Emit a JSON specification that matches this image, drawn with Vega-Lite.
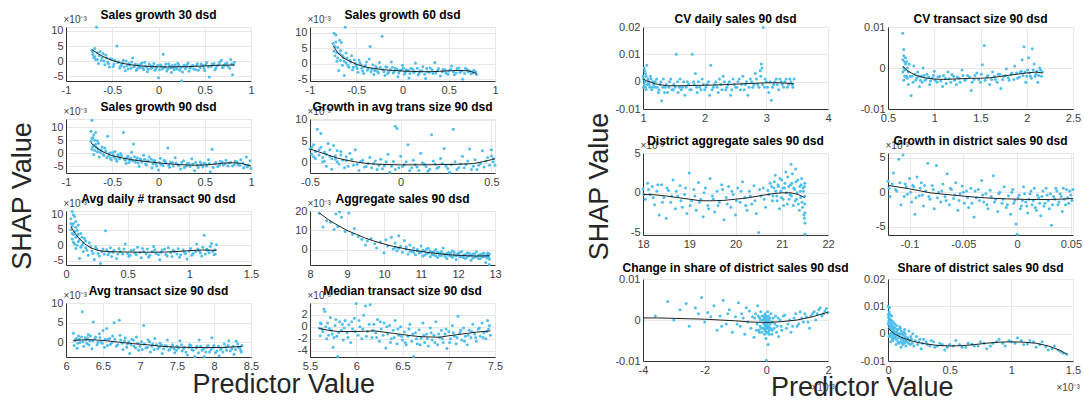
{
"$schema":"https://vega.github.io/schema/vega-lite/v6.json",
"padding":{"left":9,"top":8,"right":0,"bottom":0},
"config":{
 "font":"Liberation Sans",
 "view":{"stroke":"#e6e6e6"},
 "axis":{"grid":true,"gridColor":"#e8e8e8","domainColor":"#333333","ticks":false,"labelFontSize":11,"labelColor":"#404040","labelFont":"Liberation Sans","labelPadding":3,"labelFlush":false,"labelOverlap":false,"labelExpr":"replace(format(datum.value,'~g'),'\u2212','-')","titleFont":"Liberation Sans","titleFontWeight":"normal","titleFontSize":10,"titleColor":"#404040"},
 "axisY":{"titleAngle":0,"titleAlign":"left","titleBaseline":"bottom","titleX":-3,"titleY":-3,"titlePadding":0},
 "title":{"fontSize":12,"fontWeight":"bold","color":"#000000","frame":"group","offset":-8},
 "point":{"filled":true,"size":9,"color":"#4DBEEE","opacity":1,"clip":true},
 "line":{"color":"#222222","strokeWidth":1,"clip":true}
},
"datasets":{
"p1":[{"x":-0.72,"y":3.5},{"x":-0.71,"y":2.2},{"x":-0.7,"y":1.2},{"x":-0.69,"y":4.2},{"x":-0.68,"y":0.5},{"x":-0.67,"y":11.2},{"x":-0.66,"y":2.8},{"x":-0.65,"y":-0.8},{"x":-0.64,"y":1.8},{"x":-0.62,"y":0.2},{"x":-0.6,"y":2.5},{"x":-0.58,"y":-1.2},{"x":-0.56,"y":1.0},{"x":-0.55,"y":-0.3},{"x":-0.53,"y":-2.0},{"x":-0.5,"y":0.6},{"x":-0.48,"y":-1.0},{"x":-0.45,"y":5.0},{"x":-0.44,"y":-0.5},{"x":-0.42,"y":-2.3},{"x":-0.4,"y":-1.2},{"x":-0.38,"y":0.3},{"x":-0.36,"y":-3.2},{"x":-0.34,"y":-1.5},{"x":-0.32,"y":-0.8},{"x":-0.3,"y":-2.4},{"x":-0.28,"y":1.0},{"x":-0.26,"y":-1.8},{"x":-0.24,"y":-3.0},{"x":-0.22,"y":-1.2},{"x":-0.2,"y":-2.2},{"x":-0.18,"y":-0.6},{"x":-0.16,"y":-2.8},{"x":-0.14,"y":-1.6},{"x":-0.12,"y":-3.5},{"x":-0.1,"y":-1.0},{"x":-0.08,"y":-2.4},{"x":-0.06,"y":-1.7},{"x":-0.04,"y":-3.0},{"x":-0.02,"y":-2.0},{"x":0.0,"y":-5.5},{"x":0.02,"y":-1.2},{"x":0.04,"y":-2.6},{"x":0.05,"y":2.3},{"x":0.07,"y":-1.9},{"x":0.09,"y":-3.3},{"x":0.11,"y":-0.9},{"x":0.13,"y":-2.3},{"x":0.15,"y":-1.5},{"x":0.17,"y":-2.9},{"x":0.19,"y":-2.0},{"x":0.21,"y":-0.7},{"x":0.23,"y":-3.0},{"x":0.25,"y":-6.5},{"x":0.27,"y":-1.7},{"x":0.29,"y":-2.5},{"x":0.31,"y":-1.1},{"x":0.33,"y":-3.4},{"x":0.35,"y":-2.0},{"x":0.37,"y":-1.4},{"x":0.4,"y":-2.8},{"x":0.42,"y":-0.9},{"x":0.45,"y":-2.1},{"x":0.48,"y":-1.5},{"x":0.5,"y":-3.1},{"x":0.52,"y":-0.5},{"x":0.55,"y":-5.3},{"x":0.57,"y":-1.8},{"x":0.6,"y":-0.8},{"x":0.62,"y":-2.4},{"x":0.65,"y":-1.2},{"x":0.68,"y":0.3},{"x":0.7,"y":-2.0},{"x":0.72,"y":-1.0},{"x":0.75,"y":-1.7},{"x":0.78,"y":0.5},{"x":0.8,"y":-4.5},{"x":0.81,"y":-1.2},{"x":0.82,"y":-0.4},{"x":-0.71,"y":3.0},{"x":-0.69,"y":1.5},{"x":-0.66,"y":0.5},{"x":-0.63,"y":3.2},{"x":-0.61,"y":1.0},{"x":-0.59,"y":0.0},{"x":-0.57,"y":2.0},{"x":-0.54,"y":-0.8},{"x":-0.52,"y":0.8},{"x":-0.49,"y":-1.8},{"x":-0.47,"y":0.2},{"x":-0.43,"y":-0.2},{"x":-0.41,"y":-1.6},{"x":-0.39,"y":-0.6},{"x":-0.37,"y":-2.0},{"x":-0.35,"y":0.0},{"x":-0.33,"y":-2.6},{"x":-0.31,"y":-1.3},{"x":-0.29,"y":-0.3},{"x":-0.27,"y":-2.0},{"x":-0.25,"y":-1.0},{"x":-0.23,"y":-2.5},{"x":-0.21,"y":-1.9},{"x":-0.19,"y":-1.0},{"x":-0.17,"y":-2.3},{"x":-0.15,"y":-0.4},{"x":-0.13,"y":-2.0},{"x":-0.11,"y":-2.7},{"x":-0.09,"y":-1.4},{"x":-0.07,"y":-2.1},{"x":-0.05,"y":-0.8},{"x":-0.03,"y":-2.6},{"x":-0.01,"y":-1.4},{"x":0.01,"y":-2.9},{"x":0.03,"y":-1.6},{"x":0.06,"y":-2.2},{"x":0.08,"y":-1.0},{"x":0.1,"y":-2.6},{"x":0.12,"y":-1.7},{"x":0.14,"y":-3.8},{"x":0.16,"y":-2.2},{"x":0.18,"y":-1.2},{"x":0.2,"y":-2.6},{"x":0.22,"y":-1.4},{"x":0.24,"y":-2.2},{"x":0.26,"y":-3.6},{"x":0.28,"y":-1.3},{"x":0.3,"y":-2.0},{"x":0.32,"y":-0.6},{"x":0.34,"y":-2.4},{"x":0.36,"y":-1.6},{"x":0.38,"y":-2.6},{"x":0.41,"y":-1.5},{"x":0.43,"y":-3.0},{"x":0.46,"y":-1.0},{"x":0.49,"y":-2.4},{"x":0.51,"y":-1.2},{"x":0.54,"y":-2.0},{"x":0.58,"y":-1.0},{"x":0.61,"y":-2.9},{"x":0.63,"y":-1.6},{"x":0.66,"y":-0.4},{"x":0.69,"y":-2.2},{"x":0.71,"y":-1.4},{"x":0.74,"y":-0.6},{"x":0.77,"y":-2.4},{"x":0.79,"y":-1.0}],
"l1":[{"x":-0.72,"y":3.8},{"x":-0.65,"y":2.4},{"x":-0.6,"y":1.5},{"x":-0.5,"y":0.2},{"x":-0.4,"y":-0.7},{"x":-0.3,"y":-1.2},{"x":-0.2,"y":-1.6},{"x":-0.1,"y":-1.8},{"x":0,"y":-1.9},{"x":0.1,"y":-1.95},{"x":0.2,"y":-1.9},{"x":0.3,"y":-1.85},{"x":0.4,"y":-1.75},{"x":0.5,"y":-1.6},{"x":0.6,"y":-1.45},{"x":0.7,"y":-1.35},{"x":0.82,"y":-1.3}],
"p2":[{"x":-0.75,"y":6.5},{"x":-0.74,"y":9.8},{"x":-0.74,"y":4.0},{"x":-0.73,"y":2.5},{"x":-0.72,"y":9.2},{"x":-0.72,"y":7.0},{"x":-0.71,"y":0.8},{"x":-0.7,"y":5.2},{"x":-0.69,"y":-2.2},{"x":-0.68,"y":3.2},{"x":-0.67,"y":1.0},{"x":-0.66,"y":6.8},{"x":-0.65,"y":-0.5},{"x":-0.64,"y":2.0},{"x":-0.63,"y":-3.8},{"x":-0.62,"y":11.7},{"x":-0.61,"y":0.2},{"x":-0.6,"y":1.8},{"x":-0.58,"y":-1.2},{"x":-0.56,"y":0.5},{"x":-0.54,"y":-2.0},{"x":-0.52,"y":1.2},{"x":-0.5,"y":-0.8},{"x":-0.48,"y":-2.8},{"x":-0.46,"y":0.3},{"x":-0.44,"y":-1.5},{"x":-0.42,"y":-3.2},{"x":-0.4,"y":-0.6},{"x":-0.38,"y":-2.1},{"x":-0.36,"y":1.5},{"x":-0.35,"y":5.5},{"x":-0.33,"y":-1.8},{"x":-0.31,"y":-3.5},{"x":-0.29,"y":-0.9},{"x":-0.27,"y":-2.5},{"x":-0.25,"y":0.4},{"x":-0.22,"y":8.8},{"x":-0.21,"y":-2.0},{"x":-0.19,"y":-3.8},{"x":-0.17,"y":-1.2},{"x":-0.15,"y":-2.7},{"x":-0.12,"y":0.5},{"x":-0.1,"y":-3.0},{"x":-0.08,"y":-1.6},{"x":-0.05,"y":-4.2},{"x":-0.03,"y":-2.2},{"x":0.0,"y":-0.5},{"x":0.02,"y":-3.4},{"x":0.04,"y":-2.0},{"x":0.07,"y":-4.6},{"x":0.09,"y":-1.5},{"x":0.12,"y":-2.9},{"x":0.14,"y":0.2},{"x":0.17,"y":-3.6},{"x":0.19,"y":-2.3},{"x":0.22,"y":-1.0},{"x":0.25,"y":-4.8},{"x":0.27,"y":-2.6},{"x":0.3,"y":-1.4},{"x":0.33,"y":-3.2},{"x":0.35,"y":0.4},{"x":0.38,"y":-2.2},{"x":0.41,"y":-4.0},{"x":0.44,"y":-1.8},{"x":0.47,"y":-3.0},{"x":0.5,"y":-2.4},{"x":0.53,"y":-0.8},{"x":0.56,"y":-3.6},{"x":0.59,"y":-1.6},{"x":0.62,"y":-2.8},{"x":0.65,"y":-5.0},{"x":0.68,"y":-1.5},{"x":0.71,"y":-2.6},{"x":0.74,"y":-3.3},{"x":0.77,"y":-2.1},{"x":0.8,"y":-3.5},{"x":-0.73,"y":5.5},{"x":-0.71,"y":3.6},{"x":-0.7,"y":1.8},{"x":-0.68,"y":7.5},{"x":-0.67,"y":4.2},{"x":-0.65,"y":2.6},{"x":-0.63,"y":0.8},{"x":-0.61,"y":3.4},{"x":-0.59,"y":-0.5},{"x":-0.57,"y":1.0},{"x":-0.55,"y":2.5},{"x":-0.53,"y":-1.2},{"x":-0.51,"y":0.0},{"x":-0.49,"y":-1.6},{"x":-0.47,"y":1.2},{"x":-0.45,"y":-0.4},{"x":-0.43,"y":-2.4},{"x":-0.41,"y":-1.0},{"x":-0.39,"y":0.5},{"x":-0.37,"y":-1.6},{"x":-0.34,"y":-2.6},{"x":-0.32,"y":-0.4},{"x":-0.3,"y":-2.2},{"x":-0.28,"y":-1.4},{"x":-0.26,"y":-3.0},{"x":-0.24,"y":-1.2},{"x":-0.2,"y":-2.6},{"x":-0.18,"y":-1.0},{"x":-0.16,"y":-3.2},{"x":-0.13,"y":-2.0},{"x":-0.11,"y":-1.2},{"x":-0.09,"y":-2.6},{"x":-0.06,"y":-1.8},{"x":-0.04,"y":-3.0},{"x":-0.01,"y":-2.0},{"x":0.01,"y":-1.4},{"x":0.03,"y":-2.8},{"x":0.06,"y":-2.2},{"x":0.08,"y":-3.2},{"x":0.11,"y":-1.8},{"x":0.13,"y":-2.6},{"x":0.16,"y":-1.5},{"x":0.18,"y":-3.0},{"x":0.21,"y":-2.4},{"x":0.24,"y":-3.4},{"x":0.26,"y":-1.6},{"x":0.29,"y":-2.8},{"x":0.32,"y":-2.0},{"x":0.36,"y":-3.0},{"x":0.39,"y":-1.6},{"x":0.43,"y":-2.6},{"x":0.46,"y":-2.0},{"x":0.49,"y":-3.4},{"x":0.52,"y":-1.8},{"x":0.55,"y":-2.6},{"x":0.58,"y":-3.0},{"x":0.61,"y":-1.4},{"x":0.64,"y":-2.4},{"x":0.67,"y":-3.2},{"x":0.7,"y":-1.9},{"x":0.73,"y":-2.4},{"x":0.76,"y":-3.0},{"x":0.79,"y":-2.6}],
"l2":[{"x":-0.75,"y":5.8},{"x":-0.7,"y":3.5},{"x":-0.65,"y":2.1},{"x":-0.6,"y":1.2},{"x":-0.5,"y":-0.2},{"x":-0.4,"y":-1.1},{"x":-0.3,"y":-1.6},{"x":-0.2,"y":-2.0},{"x":-0.1,"y":-2.2},{"x":0,"y":-2.4},{"x":0.1,"y":-2.5},{"x":0.2,"y":-2.6},{"x":0.3,"y":-2.6},{"x":0.4,"y":-2.5},{"x":0.5,"y":-2.3},{"x":0.6,"y":-2.2},{"x":0.7,"y":-2.3},{"x":0.75,"y":-2.6},{"x":0.8,"y":-3.2}],
"p3":[{"x":-0.73,"y":4.5},{"x":-0.73,"y":8.5},{"x":-0.72,"y":12.7},{"x":-0.72,"y":1.5},{"x":-0.71,"y":6.0},{"x":-0.7,"y":3.0},{"x":-0.7,"y":-0.5},{"x":-0.69,"y":5.0},{"x":-0.68,"y":8.0},{"x":-0.67,"y":2.2},{"x":-0.66,"y":0.5},{"x":-0.65,"y":3.8},{"x":-0.64,"y":-1.5},{"x":-0.62,"y":1.2},{"x":-0.6,"y":-0.3},{"x":-0.58,"y":2.0},{"x":-0.56,"y":-1.8},{"x":-0.55,"y":6.5},{"x":-0.53,"y":0.0},{"x":-0.51,"y":-2.6},{"x":-0.49,"y":-0.8},{"x":-0.47,"y":0.6},{"x":-0.45,"y":-3.2},{"x":-0.43,"y":-1.5},{"x":-0.41,"y":-0.2},{"x":-0.38,"y":8.0},{"x":-0.37,"y":-2.3},{"x":-0.35,"y":-4.0},{"x":-0.33,"y":-1.2},{"x":-0.31,"y":-2.8},{"x":-0.29,"y":0.3},{"x":-0.27,"y":3.5},{"x":-0.25,"y":-3.5},{"x":-0.23,"y":-1.8},{"x":-0.21,"y":-5.2},{"x":-0.19,"y":-2.6},{"x":-0.16,"y":-0.8},{"x":-0.14,"y":-4.2},{"x":-0.12,"y":-3.0},{"x":-0.1,"y":-1.5},{"x":-0.07,"y":-5.8},{"x":-0.05,"y":-2.8},{"x":-0.03,"y":-4.0},{"x":0.0,"y":-6.5},{"x":0.02,"y":-2.0},{"x":0.05,"y":-4.8},{"x":0.07,"y":-3.2},{"x":0.1,"y":2.0},{"x":0.12,"y":-5.5},{"x":0.15,"y":-3.6},{"x":0.18,"y":-1.8},{"x":0.21,"y":-4.5},{"x":0.24,"y":-6.2},{"x":0.27,"y":-3.0},{"x":0.3,"y":-5.0},{"x":0.33,"y":-4.0},{"x":0.36,"y":-2.2},{"x":0.39,"y":-6.8},{"x":0.42,"y":-4.6},{"x":0.45,"y":-3.4},{"x":0.48,"y":-5.4},{"x":0.51,"y":-4.2},{"x":0.54,"y":-2.6},{"x":0.56,"y":-7.2},{"x":0.58,"y":1.5},{"x":0.61,"y":-4.0},{"x":0.64,"y":-5.2},{"x":0.67,"y":-3.2},{"x":0.7,"y":-4.6},{"x":0.73,"y":-2.8},{"x":0.76,"y":-3.8},{"x":0.8,"y":-5.0},{"x":0.83,"y":-3.2},{"x":0.86,"y":-4.4},{"x":0.89,"y":-2.6},{"x":0.92,"y":-5.8},{"x":0.95,"y":-1.5},{"x":0.97,"y":-4.6},{"x":0.99,"y":-3.0},{"x":1.0,"y":-6.0},{"x":-0.72,"y":5.5},{"x":-0.71,"y":2.5},{"x":-0.7,"y":7.0},{"x":-0.69,"y":1.0},{"x":-0.68,"y":3.4},{"x":-0.66,"y":4.8},{"x":-0.65,"y":1.6},{"x":-0.63,"y":0.2},{"x":-0.61,"y":2.4},{"x":-0.59,"y":-0.9},{"x":-0.57,"y":0.8},{"x":-0.54,"y":-1.0},{"x":-0.52,"y":-2.0},{"x":-0.5,"y":0.2},{"x":-0.48,"y":-1.6},{"x":-0.46,"y":-2.4},{"x":-0.44,"y":-0.6},{"x":-0.42,"y":-2.2},{"x":-0.4,"y":-1.0},{"x":-0.36,"y":-2.8},{"x":-0.34,"y":-1.6},{"x":-0.32,"y":-3.6},{"x":-0.3,"y":-2.0},{"x":-0.28,"y":-3.0},{"x":-0.26,"y":-1.4},{"x":-0.24,"y":-2.6},{"x":-0.22,"y":-3.8},{"x":-0.2,"y":-2.2},{"x":-0.18,"y":-3.4},{"x":-0.15,"y":-2.4},{"x":-0.13,"y":-4.6},{"x":-0.11,"y":-3.2},{"x":-0.08,"y":-2.4},{"x":-0.06,"y":-4.2},{"x":-0.04,"y":-3.0},{"x":-0.02,"y":-5.0},{"x":0.01,"y":-3.6},{"x":0.03,"y":-4.4},{"x":0.06,"y":-2.8},{"x":0.08,"y":-3.8},{"x":0.11,"y":-4.6},{"x":0.13,"y":-3.4},{"x":0.16,"y":-5.0},{"x":0.19,"y":-3.8},{"x":0.22,"y":-4.8},{"x":0.25,"y":-3.6},{"x":0.28,"y":-5.6},{"x":0.31,"y":-4.0},{"x":0.34,"y":-5.2},{"x":0.37,"y":-4.2},{"x":0.4,"y":-3.6},{"x":0.43,"y":-5.6},{"x":0.46,"y":-4.4},{"x":0.49,"y":-3.8},{"x":0.52,"y":-5.0},{"x":0.55,"y":-4.0},{"x":0.59,"y":-5.6},{"x":0.62,"y":-3.6},{"x":0.66,"y":-4.6},{"x":0.69,"y":-3.4},{"x":0.72,"y":-4.2},{"x":0.75,"y":-5.0},{"x":0.78,"y":-3.6},{"x":0.82,"y":-4.4},{"x":0.85,"y":-3.4},{"x":0.88,"y":-4.8},{"x":0.91,"y":-3.8},{"x":0.94,"y":-4.6},{"x":0.96,"y":-5.4}],
"l3":[{"x":-0.73,"y":4},{"x":-0.7,"y":3},{"x":-0.65,"y":1.5},{"x":-0.6,"y":0.5},{"x":-0.5,"y":-1.0},{"x":-0.4,"y":-1.8},{"x":-0.3,"y":-2.5},{"x":-0.2,"y":-3.0},{"x":-0.1,"y":-3.4},{"x":0,"y":-3.8},{"x":0.1,"y":-4.1},{"x":0.2,"y":-4.4},{"x":0.3,"y":-4.6},{"x":0.4,"y":-4.7},{"x":0.5,"y":-4.6},{"x":0.6,"y":-4.3},{"x":0.7,"y":-3.9},{"x":0.8,"y":-3.7},{"x":0.9,"y":-4.0},{"x":1.0,"y":-5.0}],
"p4":[{"x":-0.5,"y":3.2},{"x":-0.49,"y":2.0},{"x":-0.48,"y":4.2},{"x":-0.47,"y":1.0},{"x":-0.46,"y":7.8},{"x":-0.45,"y":3.0},{"x":-0.44,"y":6.8},{"x":-0.43,"y":0.2},{"x":-0.42,"y":2.5},{"x":-0.41,"y":-0.8},{"x":-0.4,"y":4.5},{"x":-0.39,"y":1.5},{"x":-0.38,"y":-1.5},{"x":-0.37,"y":4.0},{"x":-0.36,"y":0.8},{"x":-0.35,"y":2.8},{"x":-0.34,"y":-0.3},{"x":-0.33,"y":1.8},{"x":-0.31,"y":-1.2},{"x":-0.3,"y":0.5},{"x":-0.28,"y":2.2},{"x":-0.26,"y":-0.6},{"x":-0.25,"y":3.0},{"x":-0.23,"y":-1.8},{"x":-0.21,"y":0.6},{"x":-0.19,"y":-0.9},{"x":-0.17,"y":1.2},{"x":-0.15,"y":-0.2},{"x":-0.13,"y":-1.6},{"x":-0.11,"y":0.8},{"x":-0.09,"y":-0.7},{"x":-0.07,"y":2.0},{"x":-0.06,"y":-2.2},{"x":-0.04,"y":0.3},{"x":-0.03,"y":8.5},{"x":-0.02,"y":8.0},{"x":-0.01,"y":-1.2},{"x":0.0,"y":1.5},{"x":0.02,"y":-0.5},{"x":0.04,"y":4.2},{"x":0.05,"y":-1.8},{"x":0.07,"y":0.6},{"x":0.09,"y":-1.0},{"x":0.11,"y":2.2},{"x":0.13,"y":-0.3},{"x":0.15,"y":-2.0},{"x":0.17,"y":6.5},{"x":0.18,"y":0.4},{"x":0.2,"y":-1.3},{"x":0.22,"y":1.0},{"x":0.24,"y":3.3},{"x":0.25,"y":-0.8},{"x":0.27,"y":-2.2},{"x":0.29,"y":7.8},{"x":0.3,"y":0.2},{"x":0.32,"y":-1.1},{"x":0.34,"y":1.5},{"x":0.36,"y":-0.4},{"x":0.38,"y":3.2},{"x":0.39,"y":-1.6},{"x":0.41,"y":0.7},{"x":0.43,"y":-0.6},{"x":0.45,"y":2.8},{"x":0.46,"y":-1.0},{"x":0.48,"y":1.2},{"x":0.5,"y":3.0},{"x":0.51,"y":0.2},{"x":0.52,"y":-0.6},{"x":-0.49,"y":3.6},{"x":-0.48,"y":1.4},{"x":-0.47,"y":2.6},{"x":-0.45,"y":1.8},{"x":-0.44,"y":3.6},{"x":-0.43,"y":1.2},{"x":-0.42,"y":0.4},{"x":-0.41,"y":2.0},{"x":-0.39,"y":3.0},{"x":-0.38,"y":0.9},{"x":-0.36,"y":1.6},{"x":-0.35,"y":0.2},{"x":-0.33,"y":2.6},{"x":-0.32,"y":0.6},{"x":-0.3,"y":1.4},{"x":-0.29,"y":-0.8},{"x":-0.27,"y":0.8},{"x":-0.24,"y":-0.4},{"x":-0.22,"y":0.3},{"x":-0.2,"y":-1.0},{"x":-0.18,"y":-0.2},{"x":-0.16,"y":-1.2},{"x":-0.14,"y":0.4},{"x":-0.12,"y":-0.6},{"x":-0.1,"y":-1.4},{"x":-0.08,"y":0.2},{"x":-0.05,"y":-0.8},{"x":-0.03,"y":-1.6},{"x":0.01,"y":-0.9},{"x":0.03,"y":0.2},{"x":0.06,"y":-1.2},{"x":0.08,"y":-0.4},{"x":0.1,"y":-1.8},{"x":0.12,"y":0.0},{"x":0.14,"y":-0.9},{"x":0.16,"y":-1.5},{"x":0.19,"y":-0.3},{"x":0.21,"y":-1.0},{"x":0.23,"y":-0.2},{"x":0.26,"y":-1.4},{"x":0.28,"y":-0.5},{"x":0.31,"y":-1.6},{"x":0.33,"y":-0.3},{"x":0.35,"y":-1.2},{"x":0.37,"y":0.4},{"x":0.4,"y":-0.8},{"x":0.42,"y":-1.6},{"x":0.44,"y":-0.2},{"x":0.47,"y":0.4},{"x":0.49,"y":-0.6},{"x":0.5,"y":1.6},{"x":0.51,"y":1.0}],
"l4":[{"x":-0.5,"y":3.2},{"x":-0.45,"y":2.5},{"x":-0.4,"y":1.8},{"x":-0.35,"y":1.1},{"x":-0.3,"y":0.6},{"x":-0.25,"y":0.2},{"x":-0.2,"y":-0.1},{"x":-0.15,"y":-0.3},{"x":-0.1,"y":-0.4},{"x":0,"y":-0.5},{"x":0.1,"y":-0.5},{"x":0.2,"y":-0.45},{"x":0.3,"y":-0.4},{"x":0.4,"y":-0.2},{"x":0.45,"y":0.2},{"x":0.5,"y":0.7},{"x":0.52,"y":0.9}],
"p5":[{"x":0.04,"y":8.5},{"x":0.04,"y":5.0},{"x":0.05,"y":10.8},{"x":0.05,"y":2.0},{"x":0.06,"y":7.0},{"x":0.06,"y":3.5},{"x":0.07,"y":9.2},{"x":0.07,"y":0.5},{"x":0.08,"y":5.8},{"x":0.08,"y":-1.0},{"x":0.09,"y":3.0},{"x":0.1,"y":6.5},{"x":0.1,"y":1.2},{"x":0.11,"y":-4.2},{"x":0.12,"y":3.8},{"x":0.13,"y":0.0},{"x":0.14,"y":-2.0},{"x":0.15,"y":2.2},{"x":0.16,"y":-0.8},{"x":0.18,"y":-3.2},{"x":0.19,"y":0.8},{"x":0.21,"y":-1.8},{"x":0.23,"y":-4.5},{"x":0.24,"y":-0.5},{"x":0.26,"y":-2.6},{"x":0.28,"y":-5.8},{"x":0.3,"y":-1.2},{"x":0.32,"y":4.7},{"x":0.34,"y":-3.0},{"x":0.36,"y":-0.8},{"x":0.38,"y":-2.2},{"x":0.41,"y":-4.2},{"x":0.43,"y":-1.0},{"x":0.46,"y":-2.8},{"x":0.48,"y":0.4},{"x":0.51,"y":-3.5},{"x":0.53,"y":-1.6},{"x":0.56,"y":-2.5},{"x":0.58,"y":-0.6},{"x":0.61,"y":-4.0},{"x":0.63,"y":-2.0},{"x":0.66,"y":-1.2},{"x":0.68,"y":-3.2},{"x":0.71,"y":-0.4},{"x":0.73,"y":-2.6},{"x":0.76,"y":-4.6},{"x":0.78,"y":-1.5},{"x":0.81,"y":-2.9},{"x":0.83,"y":-0.8},{"x":0.86,"y":-3.6},{"x":0.88,"y":-2.0},{"x":0.91,"y":-1.1},{"x":0.93,"y":-3.0},{"x":0.96,"y":-2.2},{"x":0.98,"y":-4.4},{"x":1.01,"y":-1.0},{"x":1.03,"y":-2.6},{"x":1.06,"y":0.4},{"x":1.08,"y":-1.8},{"x":1.1,"y":-3.4},{"x":1.12,"y":3.2},{"x":1.14,"y":-1.2},{"x":1.16,"y":-2.4},{"x":1.18,"y":0.6},{"x":1.2,"y":-3.0},{"x":1.21,"y":-1.4},{"x":1.22,"y":0.2},{"x":0.04,"y":7.0},{"x":0.05,"y":3.8},{"x":0.05,"y":6.2},{"x":0.06,"y":9.8},{"x":0.06,"y":1.0},{"x":0.07,"y":4.4},{"x":0.08,"y":7.6},{"x":0.08,"y":2.6},{"x":0.09,"y":4.8},{"x":0.09,"y":0.0},{"x":0.1,"y":3.6},{"x":0.11,"y":1.8},{"x":0.12,"y":-0.6},{"x":0.13,"y":2.6},{"x":0.14,"y":0.8},{"x":0.16,"y":1.4},{"x":0.17,"y":-1.6},{"x":0.2,"y":-0.4},{"x":0.22,"y":-2.6},{"x":0.25,"y":-1.2},{"x":0.27,"y":-3.4},{"x":0.29,"y":-2.0},{"x":0.31,"y":-2.8},{"x":0.33,"y":-1.4},{"x":0.35,"y":-2.4},{"x":0.37,"y":-3.6},{"x":0.39,"y":-1.6},{"x":0.42,"y":-2.8},{"x":0.44,"y":-2.0},{"x":0.47,"y":-1.2},{"x":0.5,"y":-2.6},{"x":0.52,"y":-3.2},{"x":0.55,"y":-1.4},{"x":0.57,"y":-3.0},{"x":0.6,"y":-2.2},{"x":0.62,"y":-1.0},{"x":0.65,"y":-2.8},{"x":0.67,"y":-3.8},{"x":0.7,"y":-2.0},{"x":0.72,"y":-1.4},{"x":0.75,"y":-3.0},{"x":0.77,"y":-2.2},{"x":0.8,"y":-1.2},{"x":0.82,"y":-3.4},{"x":0.85,"y":-2.4},{"x":0.87,"y":-1.6},{"x":0.9,"y":-2.8},{"x":0.92,"y":-3.8},{"x":0.95,"y":-1.4},{"x":0.97,"y":-2.6},{"x":1.0,"y":-1.8},{"x":1.02,"y":-3.2},{"x":1.05,"y":-2.0},{"x":1.07,"y":-1.2},{"x":1.09,"y":-2.4},{"x":1.11,"y":-0.6},{"x":1.13,"y":-2.8},{"x":1.15,"y":-1.6},{"x":1.17,"y":-0.4},{"x":1.19,"y":-2.0},{"x":1.21,"y":-2.8}],
"l5":[{"x":0.04,"y":6.0},{"x":0.07,"y":4.0},{"x":0.1,"y":2.5},{"x":0.15,"y":0.5},{"x":0.2,"y":-0.8},{"x":0.25,"y":-1.5},{"x":0.3,"y":-1.9},{"x":0.4,"y":-2.1},{"x":0.5,"y":-2.15},{"x":0.6,"y":-2.2},{"x":0.7,"y":-2.2},{"x":0.8,"y":-2.15},{"x":0.9,"y":-2.0},{"x":1.0,"y":-1.7},{"x":1.1,"y":-1.5},{"x":1.22,"y":-1.6}],
"p6":[{"x":8.25,"y":18.8},{"x":8.35,"y":11.8},{"x":8.45,"y":15.0},{"x":8.55,"y":14.2},{"x":8.65,"y":10.5},{"x":8.7,"y":18.5},{"x":8.75,"y":12.0},{"x":8.8,"y":19.5},{"x":8.85,"y":16.8},{"x":8.95,"y":9.5},{"x":9.05,"y":19.0},{"x":9.15,"y":8.0},{"x":9.2,"y":11.0},{"x":9.3,"y":6.8},{"x":9.4,"y":5.5},{"x":9.5,"y":2.5},{"x":9.55,"y":4.5},{"x":9.65,"y":5.8},{"x":9.75,"y":3.2},{"x":9.8,"y":1.0},{"x":9.9,"y":4.0},{"x":10.0,"y":-1.5},{"x":10.05,"y":5.2},{"x":10.1,"y":2.0},{"x":10.2,"y":6.5},{"x":10.25,"y":0.5},{"x":10.3,"y":3.5},{"x":10.35,"y":-0.5},{"x":10.4,"y":7.2},{"x":10.45,"y":1.8},{"x":10.5,"y":-1.2},{"x":10.55,"y":4.8},{"x":10.6,"y":0.3},{"x":10.65,"y":-2.2},{"x":10.7,"y":2.5},{"x":10.75,"y":-0.8},{"x":10.8,"y":1.0},{"x":10.85,"y":-2.5},{"x":10.9,"y":0.2},{"x":10.95,"y":-1.6},{"x":11.0,"y":2.0},{"x":11.05,"y":-3.2},{"x":11.1,"y":-0.6},{"x":11.15,"y":-2.0},{"x":11.2,"y":0.8},{"x":11.25,"y":-3.6},{"x":11.3,"y":-1.2},{"x":11.35,"y":-2.6},{"x":11.4,"y":0.2},{"x":11.45,"y":-4.0},{"x":11.5,"y":-1.8},{"x":11.55,"y":-3.0},{"x":11.6,"y":1.0},{"x":11.65,"y":-2.4},{"x":11.7,"y":-4.5},{"x":11.75,"y":-1.4},{"x":11.8,"y":-3.2},{"x":11.85,"y":-0.6},{"x":11.9,"y":-2.8},{"x":11.95,"y":-5.0},{"x":12.0,"y":-1.8},{"x":12.05,"y":-3.6},{"x":12.1,"y":-0.9},{"x":12.15,"y":-2.6},{"x":12.2,"y":-4.4},{"x":12.25,"y":-1.5},{"x":12.3,"y":-3.0},{"x":12.35,"y":-5.4},{"x":12.4,"y":-2.2},{"x":12.45,"y":-3.8},{"x":12.5,"y":-1.0},{"x":12.55,"y":-2.8},{"x":12.6,"y":-4.6},{"x":12.65,"y":-2.0},{"x":12.7,"y":-3.4},{"x":12.75,"y":-6.5},{"x":12.8,"y":-1.6},{"x":12.82,"y":-3.0},{"x":12.85,"y":-7.5},{"x":12.85,"y":-2.2},{"x":10.9,"y":-0.4},{"x":11.0,"y":-1.4},{"x":11.05,"y":-0.2},{"x":11.1,"y":-2.6},{"x":11.15,"y":0.4},{"x":11.2,"y":-1.6},{"x":11.25,"y":-0.6},{"x":11.3,"y":-2.4},{"x":11.35,"y":-0.8},{"x":11.4,"y":-3.0},{"x":11.45,"y":-1.2},{"x":11.5,"y":-2.8},{"x":11.55,"y":-0.8},{"x":11.6,"y":-2.0},{"x":11.65,"y":-3.4},{"x":11.7,"y":-1.8},{"x":11.75,"y":-2.8},{"x":11.8,"y":-1.6},{"x":11.85,"y":-3.8},{"x":11.9,"y":-1.4},{"x":11.95,"y":-3.0},{"x":12.0,"y":-2.4},{"x":12.05,"y":-1.4},{"x":12.1,"y":-3.4},{"x":12.15,"y":-4.0},{"x":12.2,"y":-2.4},{"x":12.25,"y":-3.6},{"x":12.3,"y":-1.8},{"x":12.35,"y":-2.8},{"x":12.4,"y":-4.2},{"x":12.45,"y":-2.0},{"x":12.5,"y":-3.4},{"x":12.55,"y":-4.4},{"x":12.6,"y":-2.4},{"x":12.65,"y":-3.6},{"x":12.7,"y":-1.8},{"x":12.75,"y":-3.0},{"x":12.78,"y":-4.2},{"x":12.8,"y":-2.6},{"x":12.83,"y":-3.6},{"x":12.85,"y":-4.8},{"x":10.6,"y":1.6},{"x":10.7,"y":-0.6},{"x":10.8,"y":-1.2},{"x":10.4,"y":0.8},{"x":10.3,"y":1.2}],
"l6":[{"x":8.25,"y":19},{"x":8.5,"y":15.5},{"x":8.75,"y":12.6},{"x":9,"y":10},{"x":9.25,"y":8},{"x":9.5,"y":6},{"x":9.75,"y":4.4},{"x":10,"y":3},{"x":10.25,"y":1.8},{"x":10.5,"y":0.8},{"x":10.75,"y":-0.1},{"x":11,"y":-0.8},{"x":11.25,"y":-1.5},{"x":11.5,"y":-2},{"x":11.75,"y":-2.5},{"x":12,"y":-2.8},{"x":12.25,"y":-3.05},{"x":12.5,"y":-3.2},{"x":12.75,"y":-3.1},{"x":12.85,"y":-3.0}],
"p7":[{"x":6.1,"y":2.3},{"x":6.11,"y":-0.8},{"x":6.13,"y":0.8},{"x":6.15,"y":-1.5},{"x":6.17,"y":1.6},{"x":6.19,"y":0.0},{"x":6.22,"y":7.8},{"x":6.24,"y":-1.0},{"x":6.26,"y":1.2},{"x":6.28,"y":-0.3},{"x":6.3,"y":2.0},{"x":6.32,"y":0.4},{"x":6.35,"y":-1.6},{"x":6.37,"y":5.2},{"x":6.39,"y":1.0},{"x":6.42,"y":-0.6},{"x":6.45,"y":2.2},{"x":6.47,"y":0.2},{"x":6.5,"y":3.0},{"x":6.52,"y":-1.2},{"x":6.55,"y":3.5},{"x":6.57,"y":0.8},{"x":6.6,"y":-0.5},{"x":6.63,"y":1.6},{"x":6.65,"y":5.0},{"x":6.68,"y":-1.0},{"x":6.72,"y":5.6},{"x":6.74,"y":0.6},{"x":6.77,"y":-1.8},{"x":6.8,"y":1.2},{"x":6.83,"y":-0.4},{"x":6.86,"y":-2.8},{"x":6.89,"y":0.8},{"x":6.92,"y":-1.0},{"x":6.95,"y":1.4},{"x":6.98,"y":-2.0},{"x":7.02,"y":0.2},{"x":7.05,"y":4.3},{"x":7.08,"y":-1.4},{"x":7.11,"y":0.6},{"x":7.14,"y":-2.4},{"x":7.17,"y":-0.4},{"x":7.2,"y":1.0},{"x":7.24,"y":-1.6},{"x":7.27,"y":-0.2},{"x":7.3,"y":-2.8},{"x":7.34,"y":-0.8},{"x":7.37,"y":0.6},{"x":7.4,"y":-1.8},{"x":7.44,"y":-0.6},{"x":7.47,"y":-2.6},{"x":7.5,"y":-1.0},{"x":7.54,"y":0.4},{"x":7.57,"y":-2.2},{"x":7.6,"y":-1.2},{"x":7.64,"y":-3.2},{"x":7.67,"y":-0.6},{"x":7.7,"y":-1.8},{"x":7.74,"y":-3.6},{"x":7.77,"y":-1.0},{"x":7.8,"y":0.6},{"x":7.84,"y":-2.0},{"x":7.87,"y":-3.6},{"x":7.9,"y":-1.2},{"x":7.94,"y":-2.4},{"x":7.97,"y":1.2},{"x":8.0,"y":-0.8},{"x":8.04,"y":-2.2},{"x":8.07,"y":-3.4},{"x":8.1,"y":-1.4},{"x":8.14,"y":-0.4},{"x":8.17,"y":-2.0},{"x":8.2,"y":0.4},{"x":8.24,"y":-1.6},{"x":8.27,"y":-3.0},{"x":8.3,"y":0.3},{"x":8.33,"y":-1.2},{"x":8.36,"y":-2.0},{"x":8.38,"y":-0.8},{"x":6.12,"y":0.4},{"x":6.14,"y":1.0},{"x":6.16,"y":-0.2},{"x":6.18,"y":0.8},{"x":6.21,"y":1.4},{"x":6.23,"y":0.2},{"x":6.27,"y":0.6},{"x":6.29,"y":1.2},{"x":6.31,"y":-0.6},{"x":6.33,"y":1.6},{"x":6.36,"y":0.4},{"x":6.4,"y":1.4},{"x":6.43,"y":0.0},{"x":6.46,"y":1.2},{"x":6.49,"y":-0.2},{"x":6.53,"y":0.8},{"x":6.56,"y":-0.8},{"x":6.59,"y":1.0},{"x":6.62,"y":0.0},{"x":6.66,"y":0.8},{"x":6.7,"y":-0.6},{"x":6.73,"y":1.8},{"x":6.76,"y":-0.2},{"x":6.79,"y":0.4},{"x":6.82,"y":-1.2},{"x":6.85,"y":0.2},{"x":6.88,"y":-0.6},{"x":6.91,"y":0.6},{"x":6.94,"y":-1.4},{"x":6.97,"y":-0.2},{"x":7.0,"y":-1.0},{"x":7.03,"y":-1.8},{"x":7.06,"y":-0.4},{"x":7.1,"y":-1.2},{"x":7.13,"y":0.2},{"x":7.16,"y":-1.0},{"x":7.19,"y":-1.8},{"x":7.22,"y":-0.6},{"x":7.26,"y":-1.2},{"x":7.29,"y":-0.6},{"x":7.32,"y":-1.6},{"x":7.36,"y":-1.0},{"x":7.39,"y":-2.0},{"x":7.42,"y":-1.2},{"x":7.46,"y":-1.6},{"x":7.49,"y":-2.0},{"x":7.52,"y":-1.4},{"x":7.56,"y":-0.6},{"x":7.59,"y":-1.6},{"x":7.62,"y":-2.4},{"x":7.66,"y":-1.2},{"x":7.69,"y":-0.8},{"x":7.72,"y":-2.0},{"x":7.76,"y":-1.4},{"x":7.79,"y":-2.6},{"x":7.82,"y":-1.0},{"x":7.86,"y":-1.6},{"x":7.89,"y":-2.4},{"x":7.92,"y":-0.8},{"x":7.96,"y":-1.8},{"x":7.99,"y":-1.2},{"x":8.02,"y":-2.6},{"x":8.06,"y":-1.0},{"x":8.09,"y":-1.8},{"x":8.12,"y":-2.4},{"x":8.16,"y":-1.2},{"x":8.19,"y":-0.8},{"x":8.22,"y":-2.2},{"x":8.26,"y":-1.0},{"x":8.29,"y":-1.8},{"x":8.32,"y":-0.4},{"x":8.35,"y":-1.4},{"x":8.37,"y":-2.4}],
"l7":[{"x":6.1,"y":0.5},{"x":6.2,"y":0.6},{"x":6.3,"y":0.7},{"x":6.4,"y":0.6},{"x":6.5,"y":0.5},{"x":6.6,"y":0.3},{"x":6.7,"y":0.1},{"x":6.8,"y":-0.1},{"x":6.9,"y":-0.3},{"x":7.0,"y":-0.45},{"x":7.1,"y":-0.6},{"x":7.2,"y":-0.8},{"x":7.3,"y":-1.0},{"x":7.4,"y":-1.1},{"x":7.5,"y":-1.2},{"x":7.7,"y":-1.3},{"x":7.9,"y":-1.3},{"x":8.1,"y":-1.3},{"x":8.25,"y":-1.15},{"x":8.38,"y":-1.0}],
"p8":[{"x":5.6,"y":-0.2},{"x":5.61,"y":-1.5},{"x":5.62,"y":0.5},{"x":5.64,"y":-0.8},{"x":5.65,"y":2.9},{"x":5.66,"y":2.5},{"x":5.68,"y":-2.0},{"x":5.69,"y":0.6},{"x":5.71,"y":-0.3},{"x":5.72,"y":1.5},{"x":5.74,"y":-1.2},{"x":5.75,"y":-3.4},{"x":5.77,"y":0.2},{"x":5.79,"y":-1.6},{"x":5.8,"y":-4.9},{"x":5.82,"y":0.8},{"x":5.84,"y":-0.6},{"x":5.86,"y":-2.2},{"x":5.88,"y":1.0},{"x":5.9,"y":-1.0},{"x":5.92,"y":0.3},{"x":5.94,"y":-2.6},{"x":5.96,"y":-0.4},{"x":5.98,"y":1.4},{"x":6.0,"y":3.8},{"x":6.02,"y":-1.4},{"x":6.04,"y":0.0},{"x":6.06,"y":-2.0},{"x":6.08,"y":1.9},{"x":6.1,"y":3.4},{"x":6.12,"y":-0.8},{"x":6.15,"y":3.6},{"x":6.17,"y":-1.8},{"x":6.19,"y":0.4},{"x":6.21,"y":-1.0},{"x":6.23,"y":1.2},{"x":6.25,"y":-2.4},{"x":6.27,"y":-0.4},{"x":6.3,"y":0.6},{"x":6.32,"y":-3.5},{"x":6.34,"y":-1.2},{"x":6.36,"y":0.2},{"x":6.38,"y":-2.0},{"x":6.4,"y":-0.6},{"x":6.42,"y":1.0},{"x":6.44,"y":-2.8},{"x":6.46,"y":-1.4},{"x":6.48,"y":0.0},{"x":6.5,"y":-2.2},{"x":6.52,"y":-0.9},{"x":6.54,"y":-3.0},{"x":6.56,"y":-1.6},{"x":6.58,"y":0.4},{"x":6.6,"y":-2.4},{"x":6.62,"y":-4.9},{"x":6.64,"y":-1.0},{"x":6.66,"y":-2.8},{"x":6.68,"y":-0.5},{"x":6.7,"y":-1.9},{"x":6.72,"y":0.6},{"x":6.74,"y":-2.6},{"x":6.76,"y":-1.2},{"x":6.78,"y":-3.2},{"x":6.8,"y":-0.2},{"x":6.82,"y":-2.2},{"x":6.84,"y":-1.4},{"x":6.86,"y":0.8},{"x":6.88,"y":-3.0},{"x":6.9,"y":-1.8},{"x":6.92,"y":-0.6},{"x":6.94,"y":-2.6},{"x":6.96,"y":-1.2},{"x":6.98,"y":-3.6},{"x":7.0,"y":-0.8},{"x":7.02,"y":-2.0},{"x":7.04,"y":0.2},{"x":7.06,"y":-1.6},{"x":7.08,"y":-2.8},{"x":7.1,"y":1.7},{"x":7.12,"y":-1.0},{"x":7.14,"y":-2.2},{"x":7.16,"y":-0.2},{"x":7.18,"y":-1.6},{"x":7.2,"y":-3.0},{"x":7.22,"y":-0.6},{"x":7.24,"y":-1.8},{"x":7.26,"y":0.4},{"x":7.28,"y":-1.2},{"x":7.3,"y":-2.4},{"x":7.32,"y":-0.4},{"x":7.34,"y":-1.6},{"x":7.36,"y":0.6},{"x":7.38,"y":-1.0},{"x":7.4,"y":-2.0},{"x":7.42,"y":1.0},{"x":7.43,"y":-0.4},{"x":7.45,"y":-1.4},{"x":5.61,"y":0.6},{"x":5.63,"y":-0.4},{"x":5.67,"y":0.0},{"x":5.7,"y":-1.4},{"x":5.73,"y":-0.6},{"x":5.76,"y":-1.8},{"x":5.78,"y":1.2},{"x":5.81,"y":-1.0},{"x":5.85,"y":0.4},{"x":5.87,"y":-0.2},{"x":5.91,"y":-1.8},{"x":5.95,"y":0.8},{"x":5.99,"y":-0.8},{"x":6.03,"y":1.0},{"x":6.07,"y":-0.4},{"x":6.11,"y":-1.6},{"x":6.14,"y":0.4},{"x":6.18,"y":-0.6},{"x":6.22,"y":-1.8},{"x":6.26,"y":0.8},{"x":6.29,"y":-1.4},{"x":6.33,"y":0.0},{"x":6.37,"y":-2.6},{"x":6.41,"y":-1.8},{"x":6.45,"y":-0.4},{"x":6.49,"y":-1.6},{"x":6.53,"y":-2.6},{"x":6.57,"y":-0.4},{"x":6.61,"y":-1.2},{"x":6.65,"y":-2.0},{"x":6.69,"y":-3.0},{"x":6.73,"y":-1.4},{"x":6.77,"y":-2.0},{"x":6.81,"y":-1.0},{"x":6.85,"y":-2.6},{"x":6.89,"y":-1.2},{"x":6.93,"y":-2.0},{"x":6.97,"y":-0.4},{"x":7.01,"y":-2.6},{"x":7.05,"y":-1.0},{"x":7.09,"y":-1.8},{"x":7.13,"y":-0.6},{"x":7.17,"y":-2.4},{"x":7.21,"y":-1.4},{"x":7.25,"y":-0.8},{"x":7.29,"y":-1.8},{"x":7.33,"y":-0.2},{"x":7.37,"y":-1.8},{"x":7.41,"y":-0.8},{"x":7.44,"y":0.2}],
"l8":[{"x":5.6,"y":-0.3},{"x":5.7,"y":-0.6},{"x":5.8,"y":-0.8},{"x":5.9,"y":-0.8},{"x":6.0,"y":-0.8},{"x":6.1,"y":-0.75},{"x":6.2,"y":-0.7},{"x":6.3,"y":-0.9},{"x":6.4,"y":-1.1},{"x":6.5,"y":-1.3},{"x":6.6,"y":-1.5},{"x":6.7,"y":-1.65},{"x":6.8,"y":-1.7},{"x":6.9,"y":-1.75},{"x":7.0,"y":-1.5},{"x":7.1,"y":-1.3},{"x":7.2,"y":-1.1},{"x":7.3,"y":-0.9},{"x":7.45,"y":-0.7}],
"p9":[{"x":1.0,"y":0.002},{"x":1.01,"y":-0.002},{"x":1.02,"y":0.005},{"x":1.03,"y":0.0},{"x":1.04,"y":0.003},{"x":1.05,"y":-0.003},{"x":1.06,"y":0.006},{"x":1.08,"y":0.001},{"x":1.1,"y":-0.001},{"x":1.12,"y":0.002},{"x":1.14,"y":-0.003},{"x":1.16,"y":0.0},{"x":1.19,"y":-0.002},{"x":1.22,"y":0.001},{"x":1.25,"y":-0.004},{"x":1.28,"y":-0.001},{"x":1.3,"y":-0.007},{"x":1.33,"y":0.001},{"x":1.36,"y":-0.002},{"x":1.4,"y":-0.004},{"x":1.43,"y":0.0},{"x":1.47,"y":-0.003},{"x":1.5,"y":-0.001},{"x":1.54,"y":0.01},{"x":1.57,"y":-0.004},{"x":1.6,"y":0.001},{"x":1.64,"y":-0.002},{"x":1.68,"y":-0.005},{"x":1.72,"y":0.0},{"x":1.76,"y":-0.003},{"x":1.8,"y":0.01},{"x":1.83,"y":-0.001},{"x":1.85,"y":0.003},{"x":1.88,"y":-0.004},{"x":1.92,"y":-0.002},{"x":1.96,"y":0.001},{"x":2.0,"y":-0.003},{"x":2.04,"y":-0.001},{"x":2.08,"y":-0.005},{"x":2.1,"y":0.006},{"x":2.14,"y":-0.002},{"x":2.18,"y":0.0},{"x":2.22,"y":-0.004},{"x":2.26,"y":-0.001},{"x":2.3,"y":0.002},{"x":2.34,"y":-0.003},{"x":2.38,"y":-0.001},{"x":2.42,"y":-0.005},{"x":2.46,"y":0.001},{"x":2.5,"y":-0.002},{"x":2.54,"y":0.0},{"x":2.58,"y":-0.003},{"x":2.62,"y":0.002},{"x":2.66,"y":-0.001},{"x":2.7,"y":-0.005},{"x":2.74,"y":0.001},{"x":2.78,"y":-0.002},{"x":2.82,"y":0.003},{"x":2.86,"y":-0.001},{"x":2.9,"y":0.004},{"x":2.92,"y":0.0065},{"x":2.93,"y":0.005},{"x":2.95,"y":0.0198},{"x":2.97,"y":-0.002},{"x":3.0,"y":0.0},{"x":3.04,"y":-0.004},{"x":3.08,"y":-0.0068},{"x":3.12,"y":-0.001},{"x":3.16,"y":0.001},{"x":3.2,"y":-0.003},{"x":3.24,"y":0.0},{"x":3.28,"y":-0.002},{"x":3.32,"y":0.001},{"x":3.36,"y":-0.001},{"x":3.4,"y":0.0},{"x":3.43,"y":-0.002},{"x":3.45,"y":0.001},{"x":1.01,"y":0.001},{"x":1.02,"y":-0.001},{"x":1.03,"y":0.004},{"x":1.04,"y":-0.002},{"x":1.05,"y":0.002},{"x":1.07,"y":-0.001},{"x":1.09,"y":0.0},{"x":1.11,"y":-0.002},{"x":1.13,"y":0.001},{"x":1.15,"y":-0.002},{"x":1.17,"y":-0.001},{"x":1.2,"y":0.0},{"x":1.23,"y":-0.002},{"x":1.26,"y":-0.003},{"x":1.29,"y":0.0},{"x":1.32,"y":-0.002},{"x":1.35,"y":-0.004},{"x":1.38,"y":-0.001},{"x":1.42,"y":-0.002},{"x":1.45,"y":0.001},{"x":1.49,"y":-0.003},{"x":1.52,"y":-0.002},{"x":1.56,"y":0.0},{"x":1.59,"y":-0.002},{"x":1.62,"y":-0.003},{"x":1.66,"y":0.0},{"x":1.7,"y":-0.002},{"x":1.74,"y":-0.001},{"x":1.78,"y":-0.003},{"x":1.82,"y":0.0},{"x":1.87,"y":-0.002},{"x":1.9,"y":0.0},{"x":1.94,"y":-0.003},{"x":1.98,"y":-0.001},{"x":2.02,"y":-0.002},{"x":2.06,"y":0.0},{"x":2.12,"y":-0.003},{"x":2.16,"y":-0.001},{"x":2.2,"y":-0.002},{"x":2.24,"y":0.001},{"x":2.28,"y":-0.003},{"x":2.32,"y":0.0},{"x":2.36,"y":-0.002},{"x":2.4,"y":0.0},{"x":2.44,"y":-0.003},{"x":2.48,"y":-0.001},{"x":2.52,"y":-0.002},{"x":2.56,"y":0.001},{"x":2.6,"y":-0.001},{"x":2.64,"y":-0.003},{"x":2.68,"y":0.0},{"x":2.72,"y":-0.002},{"x":2.76,"y":0.0},{"x":2.8,"y":-0.001},{"x":2.84,"y":0.001},{"x":2.88,"y":-0.002},{"x":2.91,"y":0.002},{"x":2.94,"y":-0.001},{"x":2.98,"y":0.001},{"x":3.02,"y":-0.002},{"x":3.06,"y":0.0},{"x":3.1,"y":-0.002},{"x":3.14,"y":0.0},{"x":3.18,"y":-0.001},{"x":3.22,"y":0.001},{"x":3.26,"y":-0.001},{"x":3.3,"y":0.0},{"x":3.34,"y":-0.002},{"x":3.38,"y":0.001},{"x":3.42,"y":-0.001}],
"l9":[{"x":1.0,"y":0.001},{"x":1.05,"y":0.0004},{"x":1.1,"y":0.0},{"x":1.2,"y":-0.0008},{"x":1.3,"y":-0.0012},{"x":1.4,"y":-0.0015},{"x":1.6,"y":-0.0015},{"x":1.8,"y":-0.0014},{"x":2.0,"y":-0.0013},{"x":2.2,"y":-0.0012},{"x":2.4,"y":-0.001},{"x":2.6,"y":-0.0008},{"x":2.8,"y":-0.0006},{"x":3.0,"y":-0.0004},{"x":3.2,"y":-0.0004},{"x":3.35,"y":-0.0006},{"x":3.45,"y":-0.0008}],
"p10":[{"x":0.66,"y":0.0085},{"x":0.66,"y":0.002},{"x":0.66,"y":-0.001},{"x":0.67,"y":0.0045},{"x":0.67,"y":0.003},{"x":0.67,"y":-0.003},{"x":0.68,"y":0.0015},{"x":0.68,"y":-0.0005},{"x":0.69,"y":0.0025},{"x":0.7,"y":-0.002},{"x":0.71,"y":0.0},{"x":0.72,"y":-0.004},{"x":0.73,"y":0.001},{"x":0.75,"y":-0.0067},{"x":0.76,"y":-0.002},{"x":0.78,"y":0.0005},{"x":0.8,"y":-0.003},{"x":0.82,"y":-0.001},{"x":0.84,"y":-0.0045},{"x":0.86,"y":-0.002},{"x":0.88,"y":0.0},{"x":0.9,"y":-0.003},{"x":0.92,"y":-0.0015},{"x":0.95,"y":-0.004},{"x":0.98,"y":-0.0025},{"x":1.0,"y":-0.0008},{"x":1.03,"y":-0.0035},{"x":1.06,"y":-0.002},{"x":1.09,"y":-0.0045},{"x":1.12,"y":-0.0025},{"x":1.15,"y":-0.001},{"x":1.18,"y":-0.0035},{"x":1.21,"y":-0.002},{"x":1.24,"y":-0.004},{"x":1.27,"y":-0.0025},{"x":1.3,"y":-0.0005},{"x":1.33,"y":-0.003},{"x":1.36,"y":-0.0018},{"x":1.4,"y":-0.0055},{"x":1.43,"y":-0.0028},{"x":1.46,"y":-0.0012},{"x":1.5,"y":-0.0035},{"x":1.52,"y":0.0008},{"x":1.54,"y":0.0055},{"x":1.57,"y":-0.0022},{"x":1.6,"y":-0.004},{"x":1.63,"y":-0.001},{"x":1.66,"y":-0.0028},{"x":1.69,"y":-0.0015},{"x":1.72,"y":-0.005},{"x":1.75,"y":-0.002},{"x":1.78,"y":-0.0002},{"x":1.81,"y":-0.003},{"x":1.84,"y":-0.0012},{"x":1.87,"y":0.0005},{"x":1.9,"y":-0.0025},{"x":1.93,"y":-0.001},{"x":1.95,"y":0.002},{"x":1.97,"y":0.0052},{"x":1.99,"y":-0.0035},{"x":2.01,"y":-0.0005},{"x":2.02,"y":0.0025},{"x":2.04,"y":-0.002},{"x":2.06,"y":0.0047},{"x":2.08,"y":0.001},{"x":2.1,"y":-0.0015},{"x":2.12,"y":-0.0035},{"x":2.14,"y":0.0},{"x":2.16,"y":-0.002},{"x":2.17,"y":-0.001},{"x":0.67,"y":0.0},{"x":0.68,"y":-0.002},{"x":0.69,"y":0.001},{"x":0.7,"y":0.0015},{"x":0.71,"y":-0.0025},{"x":0.72,"y":-0.001},{"x":0.74,"y":-0.002},{"x":0.77,"y":-0.0035},{"x":0.79,"y":-0.0015},{"x":0.81,"y":-0.0025},{"x":0.83,"y":-0.002},{"x":0.85,"y":-0.003},{"x":0.87,"y":-0.0035},{"x":0.89,"y":-0.0018},{"x":0.91,"y":-0.0028},{"x":0.94,"y":-0.0022},{"x":0.96,"y":-0.0032},{"x":0.99,"y":-0.0018},{"x":1.01,"y":-0.003},{"x":1.04,"y":-0.0022},{"x":1.07,"y":-0.0032},{"x":1.1,"y":-0.0018},{"x":1.13,"y":-0.0038},{"x":1.16,"y":-0.0026},{"x":1.19,"y":-0.0016},{"x":1.22,"y":-0.003},{"x":1.25,"y":-0.0022},{"x":1.28,"y":-0.0035},{"x":1.31,"y":-0.0018},{"x":1.34,"y":-0.0028},{"x":1.38,"y":-0.0022},{"x":1.41,"y":-0.0035},{"x":1.44,"y":-0.0018},{"x":1.48,"y":-0.0028},{"x":1.51,"y":-0.0015},{"x":1.55,"y":-0.003},{"x":1.58,"y":-0.0018},{"x":1.62,"y":-0.0028},{"x":1.65,"y":-0.002},{"x":1.68,"y":-0.0035},{"x":1.71,"y":-0.0015},{"x":1.74,"y":-0.0028},{"x":1.77,"y":-0.0018},{"x":1.8,"y":-0.0024},{"x":1.83,"y":-0.0015},{"x":1.86,"y":-0.0028},{"x":1.89,"y":-0.0012},{"x":1.92,"y":-0.0022},{"x":1.94,"y":-0.0008},{"x":1.96,"y":-0.0018},{"x":1.98,"y":-0.001},{"x":2.0,"y":-0.002},{"x":2.03,"y":-0.0012},{"x":2.05,"y":-0.0025},{"x":2.07,"y":-0.0005},{"x":2.09,"y":-0.002},{"x":2.11,"y":-0.0008},{"x":2.13,"y":-0.0018},{"x":2.15,"y":-0.0005}],
"l10":[{"x":0.66,"y":0.0005},{"x":0.7,"y":-0.0005},{"x":0.75,"y":-0.0012},{"x":0.8,"y":-0.0018},{"x":0.9,"y":-0.0024},{"x":1.0,"y":-0.0027},{"x":1.1,"y":-0.0028},{"x":1.2,"y":-0.0027},{"x":1.3,"y":-0.0026},{"x":1.4,"y":-0.0025},{"x":1.5,"y":-0.0025},{"x":1.6,"y":-0.0024},{"x":1.7,"y":-0.0021},{"x":1.8,"y":-0.0018},{"x":1.9,"y":-0.0015},{"x":2.0,"y":-0.0012},{"x":2.1,"y":-0.001},{"x":2.17,"y":-0.0012}],
"p11":[{"x":18.0,"y":0.5},{"x":18.05,"y":-0.8},{"x":18.1,"y":1.2},{"x":18.15,"y":-0.2},{"x":18.2,"y":0.8},{"x":18.25,"y":-1.5},{"x":18.3,"y":0.2},{"x":18.35,"y":-2.8},{"x":18.4,"y":1.0},{"x":18.45,"y":-0.6},{"x":18.5,"y":-3.2},{"x":18.55,"y":0.3},{"x":18.6,"y":-1.2},{"x":18.65,"y":1.6},{"x":18.7,"y":-2.0},{"x":18.75,"y":-0.4},{"x":18.8,"y":0.9},{"x":18.85,"y":-1.8},{"x":18.9,"y":-0.2},{"x":18.95,"y":-2.6},{"x":19.0,"y":2.5},{"x":19.05,"y":-1.0},{"x":19.1,"y":0.4},{"x":19.15,"y":-2.2},{"x":19.2,"y":1.3},{"x":19.25,"y":-0.8},{"x":19.3,"y":-3.0},{"x":19.35,"y":0.6},{"x":19.4,"y":-1.6},{"x":19.45,"y":1.8},{"x":19.5,"y":-0.4},{"x":19.55,"y":-2.4},{"x":19.6,"y":0.2},{"x":19.65,"y":-1.2},{"x":19.7,"y":1.0},{"x":19.75,"y":-3.4},{"x":19.8,"y":-0.6},{"x":19.85,"y":0.8},{"x":19.9,"y":-1.8},{"x":19.95,"y":-0.2},{"x":20.0,"y":-2.8},{"x":20.05,"y":0.6},{"x":20.1,"y":-1.2},{"x":20.15,"y":1.4},{"x":20.2,"y":-0.6},{"x":20.25,"y":-2.2},{"x":20.3,"y":0.2},{"x":20.35,"y":-1.4},{"x":20.4,"y":0.9},{"x":20.45,"y":-2.6},{"x":20.5,"y":-5.0},{"x":20.55,"y":-0.4},{"x":20.6,"y":0.6},{"x":20.65,"y":-1.8},{"x":20.7,"y":0.3},{"x":20.75,"y":1.2},{"x":20.8,"y":-1.0},{"x":20.83,"y":0.6},{"x":20.86,"y":2.2},{"x":20.89,"y":-0.4},{"x":20.92,"y":1.0},{"x":20.95,"y":-2.0},{"x":20.98,"y":0.2},{"x":21.0,"y":1.6},{"x":21.03,"y":-0.8},{"x":21.06,"y":0.6},{"x":21.09,"y":2.6},{"x":21.12,"y":-1.4},{"x":21.15,"y":0.8},{"x":21.18,"y":-0.2},{"x":21.2,"y":3.6},{"x":21.22,"y":1.2},{"x":21.25,"y":-1.6},{"x":21.28,"y":0.4},{"x":21.3,"y":3.0},{"x":21.32,"y":-0.8},{"x":21.35,"y":1.6},{"x":21.38,"y":-2.2},{"x":21.4,"y":0.2},{"x":21.42,"y":1.0},{"x":21.44,"y":-1.2},{"x":21.46,"y":0.6},{"x":21.48,"y":-2.8},{"x":21.5,"y":-5.2},{"x":21.5,"y":-0.4},{"x":21.5,"y":1.2},{"x":21.5,"y":-2.5},{"x":18.02,"y":-0.2},{"x":18.12,"y":0.4},{"x":18.22,"y":-0.6},{"x":18.32,"y":1.0},{"x":18.42,"y":-1.2},{"x":18.52,"y":0.6},{"x":18.62,"y":-0.4},{"x":18.72,"y":0.2},{"x":18.82,"y":-1.0},{"x":18.92,"y":0.6},{"x":19.02,"y":-1.6},{"x":19.12,"y":-0.4},{"x":19.22,"y":-1.2},{"x":19.32,"y":0.0},{"x":19.42,"y":-2.0},{"x":19.52,"y":-0.8},{"x":19.62,"y":-1.6},{"x":19.72,"y":0.4},{"x":19.82,"y":-1.4},{"x":19.92,"y":0.2},{"x":20.02,"y":-1.0},{"x":20.12,"y":0.2},{"x":20.22,"y":-1.6},{"x":20.32,"y":-0.4},{"x":20.42,"y":-1.0},{"x":20.52,"y":0.4},{"x":20.62,"y":-0.8},{"x":20.72,"y":-0.2},{"x":20.78,"y":0.8},{"x":20.81,"y":-0.4},{"x":20.84,"y":1.4},{"x":20.87,"y":0.2},{"x":20.9,"y":-1.0},{"x":20.93,"y":0.8},{"x":20.96,"y":1.8},{"x":20.99,"y":-0.6},{"x":21.02,"y":0.6},{"x":21.04,"y":-1.6},{"x":21.07,"y":1.2},{"x":21.1,"y":0.0},{"x":21.13,"y":2.0},{"x":21.16,"y":-0.8},{"x":21.19,"y":1.0},{"x":21.21,"y":-0.4},{"x":21.23,"y":2.4},{"x":21.26,"y":0.6},{"x":21.29,"y":-1.0},{"x":21.31,"y":1.4},{"x":21.33,"y":0.0},{"x":21.36,"y":-1.4},{"x":21.39,"y":0.8},{"x":21.41,"y":-0.6},{"x":21.43,"y":1.8},{"x":21.45,"y":-1.8},{"x":21.47,"y":0.2},{"x":21.49,"y":-3.2},{"x":21.49,"y":0.8},{"x":21.5,"y":-1.4},{"x":21.5,"y":-3.8}],
"l11":[{"x":18.0,"y":-0.2},{"x":18.25,"y":-0.25},{"x":18.5,"y":-0.4},{"x":18.75,"y":-0.6},{"x":19.0,"y":-0.8},{"x":19.25,"y":-1.0},{"x":19.5,"y":-1.0},{"x":19.75,"y":-0.95},{"x":20.0,"y":-0.8},{"x":20.25,"y":-0.65},{"x":20.5,"y":-0.4},{"x":20.75,"y":-0.15},{"x":21.0,"y":0.0},{"x":21.2,"y":0.0},{"x":21.35,"y":-0.2},{"x":21.5,"y":-0.6}],
"p12":[{"x":-0.12,"y":1.6},{"x":-0.118,"y":-0.6},{"x":-0.115,"y":2.8},{"x":-0.113,"y":0.4},{"x":-0.11,"y":4.8},{"x":-0.108,"y":-1.8},{"x":-0.106,"y":5.4},{"x":-0.104,"y":1.2},{"x":-0.102,"y":-0.3},{"x":-0.1,"y":2.0},{"x":-0.098,"y":-1.4},{"x":-0.096,"y":0.8},{"x":-0.095,"y":-3.2},{"x":-0.093,"y":2.2},{"x":-0.091,"y":-0.5},{"x":-0.089,"y":1.4},{"x":-0.087,"y":-2.0},{"x":-0.085,"y":0.2},{"x":-0.083,"y":4.2},{"x":-0.081,"y":-1.0},{"x":-0.079,"y":1.0},{"x":-0.077,"y":-2.4},{"x":-0.075,"y":3.9},{"x":-0.073,"y":0.0},{"x":-0.071,"y":-1.4},{"x":-0.069,"y":1.2},{"x":-0.067,"y":-0.6},{"x":-0.065,"y":2.7},{"x":-0.063,"y":-1.8},{"x":-0.061,"y":0.4},{"x":-0.059,"y":-0.9},{"x":-0.057,"y":1.4},{"x":-0.055,"y":-2.6},{"x":-0.053,"y":-0.2},{"x":-0.051,"y":0.9},{"x":-0.049,"y":-1.6},{"x":-0.047,"y":0.2},{"x":-0.045,"y":-2.2},{"x":-0.043,"y":0.6},{"x":-0.04,"y":-3.6},{"x":-0.038,"y":-0.8},{"x":-0.036,"y":0.4},{"x":-0.033,"y":1.7},{"x":-0.031,"y":-1.4},{"x":-0.029,"y":-0.2},{"x":-0.027,"y":-2.4},{"x":-0.025,"y":0.3},{"x":-0.022,"y":2.4},{"x":-0.02,"y":-1.0},{"x":-0.018,"y":-2.8},{"x":-0.016,"y":0.0},{"x":-0.014,"y":-1.6},{"x":-0.012,"y":0.8},{"x":-0.01,"y":-2.2},{"x":-0.008,"y":-0.5},{"x":-0.006,"y":-3.2},{"x":-0.004,"y":0.4},{"x":-0.002,"y":-1.2},{"x":-0.001,"y":-4.6},{"x":0.0,"y":-6.1},{"x":0.002,"y":-0.4},{"x":0.004,"y":-2.0},{"x":0.006,"y":0.8},{"x":0.008,"y":-1.4},{"x":0.01,"y":-3.0},{"x":0.012,"y":-0.2},{"x":0.014,"y":-1.8},{"x":0.016,"y":0.6},{"x":0.018,"y":-2.6},{"x":0.02,"y":-0.8},{"x":0.022,"y":-3.4},{"x":0.024,"y":0.2},{"x":0.026,"y":-1.6},{"x":0.028,"y":-0.4},{"x":0.03,"y":-2.4},{"x":0.032,"y":-4.8},{"x":0.034,"y":-0.6},{"x":0.036,"y":0.6},{"x":0.038,"y":-1.8},{"x":0.04,"y":-0.2},{"x":0.042,"y":-2.8},{"x":0.044,"y":-1.0},{"x":0.046,"y":0.4},{"x":0.048,"y":-1.6},{"x":0.05,"y":-0.4},{"x":0.052,"y":0.4},{"x":-0.119,"y":0.6},{"x":-0.116,"y":1.2},{"x":-0.112,"y":0.2},{"x":-0.109,"y":1.4},{"x":-0.105,"y":-0.6},{"x":-0.103,"y":0.8},{"x":-0.099,"y":0.0},{"x":-0.097,"y":1.0},{"x":-0.094,"y":-0.8},{"x":-0.09,"y":0.6},{"x":-0.088,"y":-0.4},{"x":-0.086,"y":1.0},{"x":-0.082,"y":-0.6},{"x":-0.078,"y":0.4},{"x":-0.074,"y":-0.8},{"x":-0.07,"y":0.2},{"x":-0.066,"y":-1.2},{"x":-0.062,"y":0.6},{"x":-0.058,"y":-0.4},{"x":-0.054,"y":-1.2},{"x":-0.05,"y":0.0},{"x":-0.046,"y":-0.8},{"x":-0.042,"y":-1.6},{"x":-0.039,"y":0.2},{"x":-0.035,"y":-1.2},{"x":-0.032,"y":-0.4},{"x":-0.028,"y":-1.8},{"x":-0.024,"y":-0.6},{"x":-0.021,"y":-1.4},{"x":-0.017,"y":-0.2},{"x":-0.013,"y":-1.0},{"x":-0.009,"y":-1.8},{"x":-0.005,"y":0.0},{"x":-0.003,"y":-1.6},{"x":0.001,"y":-0.8},{"x":0.003,"y":-2.4},{"x":0.005,"y":-1.2},{"x":0.007,"y":-0.2},{"x":0.009,"y":-2.0},{"x":0.011,"y":-1.0},{"x":0.013,"y":0.2},{"x":0.015,"y":-1.2},{"x":0.017,"y":-2.2},{"x":0.019,"y":-0.4},{"x":0.021,"y":-1.6},{"x":0.023,"y":-0.6},{"x":0.025,"y":-2.0},{"x":0.027,"y":0.6},{"x":0.029,"y":-1.2},{"x":0.031,"y":-0.2},{"x":0.033,"y":-1.8},{"x":0.035,"y":-1.0},{"x":0.037,"y":0.2},{"x":0.039,"y":-1.4},{"x":0.041,"y":-0.6},{"x":0.043,"y":0.6},{"x":0.045,"y":-1.8},{"x":0.047,"y":-0.8},{"x":0.049,"y":0.2},{"x":0.051,"y":-1.2}],
"l12":[{"x":-0.12,"y":1.0},{"x":-0.11,"y":0.75},{"x":-0.1,"y":0.5},{"x":-0.09,"y":0.2},{"x":-0.08,"y":-0.1},{"x":-0.07,"y":-0.25},{"x":-0.06,"y":-0.4},{"x":-0.05,"y":-0.55},{"x":-0.04,"y":-0.7},{"x":-0.03,"y":-0.8},{"x":-0.02,"y":-0.9},{"x":-0.01,"y":-0.95},{"x":0.0,"y":-1.0},{"x":0.01,"y":-1.05},{"x":0.02,"y":-1.05},{"x":0.03,"y":-1.05},{"x":0.04,"y":-1.0},{"x":0.052,"y":-0.9}],
"p13":[{"x":-3.6,"y":0.001},{"x":-3.2,"y":0.0045},{"x":-3.0,"y":0.0},{"x":-2.8,"y":0.0025},{"x":-2.5,"y":-0.0015},{"x":-2.3,"y":0.003},{"x":-2.1,"y":0.0055},{"x":-2.0,"y":-0.0005},{"x":-1.9,"y":0.0018},{"x":-1.7,"y":0.0035},{"x":-1.6,"y":-0.0025},{"x":-1.5,"y":0.001},{"x":-1.4,"y":0.0048},{"x":-1.3,"y":-0.001},{"x":-1.2,"y":0.0025},{"x":-1.1,"y":-0.003},{"x":-1.0,"y":0.0008},{"x":-0.9,"y":0.0042},{"x":-0.85,"y":-0.0015},{"x":-0.8,"y":0.0015},{"x":-0.7,"y":-0.0035},{"x":-0.65,"y":0.003},{"x":-0.6,"y":-0.0005},{"x":-0.55,"y":0.0022},{"x":-0.5,"y":-0.002},{"x":-0.45,"y":0.0008},{"x":-0.4,"y":-0.0042},{"x":-0.35,"y":0.0015},{"x":-0.3,"y":-0.001},{"x":-0.28,"y":0.0035},{"x":-0.25,"y":-0.0025},{"x":-0.22,"y":0.0005},{"x":-0.2,"y":-0.0015},{"x":-0.18,"y":0.002},{"x":-0.15,"y":-0.003},{"x":-0.12,"y":0.0},{"x":-0.1,"y":-0.002},{"x":-0.08,"y":0.001},{"x":-0.06,"y":-0.0035},{"x":-0.05,"y":-0.001},{"x":-0.04,"y":0.0015},{"x":-0.03,"y":-0.0025},{"x":-0.02,"y":-0.0005},{"x":-0.01,"y":-0.0045},{"x":0.0,"y":-0.0015},{"x":0.0,"y":-0.0098},{"x":0.01,"y":0.0005},{"x":0.02,"y":-0.003},{"x":0.03,"y":-0.001},{"x":0.04,"y":0.002},{"x":0.05,"y":-0.002},{"x":0.06,"y":-0.006},{"x":0.08,"y":0.0},{"x":0.1,"y":-0.0025},{"x":0.12,"y":-0.001},{"x":0.15,"y":0.0015},{"x":0.18,"y":-0.0035},{"x":0.2,"y":-0.0005},{"x":0.25,"y":-0.002},{"x":0.3,"y":0.001},{"x":0.35,"y":-0.0015},{"x":0.4,"y":-0.004},{"x":0.45,"y":0.0},{"x":0.5,"y":-0.0025},{"x":0.6,"y":0.0012},{"x":0.7,"y":-0.001},{"x":0.8,"y":-0.003},{"x":0.9,"y":0.0005},{"x":1.0,"y":-0.0015},{"x":1.1,"y":0.002},{"x":1.2,"y":-0.0005},{"x":1.3,"y":0.0008},{"x":1.4,"y":-0.002},{"x":1.5,"y":0.0015},{"x":1.6,"y":0.0},{"x":1.7,"y":0.0025},{"x":1.8,"y":0.001},{"x":1.9,"y":0.0022},{"x":2.0,"y":0.0018},{"x":-0.09,"y":-0.001},{"x":-0.07,"y":0.0005},{"x":-0.055,"y":-0.0025},{"x":-0.045,"y":0.0},{"x":-0.035,"y":-0.0015},{"x":-0.025,"y":0.001},{"x":-0.015,"y":-0.002},{"x":-0.005,"y":0.0},{"x":0.005,"y":-0.003},{"x":0.015,"y":-0.0015},{"x":0.025,"y":0.0005},{"x":0.035,"y":-0.002},{"x":0.045,"y":-0.0005},{"x":0.055,"y":-0.003},{"x":0.065,"y":0.001},{"x":0.075,"y":-0.0015},{"x":0.09,"y":-0.0035},{"x":0.11,"y":0.0005},{"x":0.13,"y":-0.002},{"x":0.16,"y":-0.0005},{"x":0.19,"y":-0.0025},{"x":0.22,"y":0.0005},{"x":-0.14,"y":0.001},{"x":-0.17,"y":-0.002},{"x":-0.19,"y":0.0},{"x":-0.23,"y":-0.003},{"x":-0.26,"y":0.001},{"x":-0.32,"y":-0.0025},{"x":-0.38,"y":0.0005},{"x":0.28,"y":-0.001},{"x":0.33,"y":-0.003},{"x":0.38,"y":0.0005},{"x":0.48,"y":-0.0015},{"x":0.55,"y":0.001},{"x":0.65,"y":-0.002},{"x":0.75,"y":0.0},{"x":0.85,"y":-0.0015},{"x":0.95,"y":0.0015},{"x":1.05,"y":-0.001},{"x":1.15,"y":0.0005},{"x":1.25,"y":0.0015},{"x":1.35,"y":-0.0005},{"x":1.45,"y":0.001},{"x":1.55,"y":0.002},{"x":1.65,"y":0.0015},{"x":1.75,"y":0.003},{"x":1.85,"y":0.0015},{"x":1.95,"y":0.0028},{"x":-0.75,"y":0.0005},{"x":-0.95,"y":-0.001},{"x":-1.25,"y":0.0015},{"x":-1.45,"y":-0.0015},{"x":-1.8,"y":0.0008},{"x":-2.2,"y":0.0015},{"x":-2.6,"y":0.004}],
"l13":[{"x":-4,"y":0.0005},{"x":-3.5,"y":0.0005},{"x":-3,"y":0.0004},{"x":-2.5,"y":0.0003},{"x":-2,"y":0.0002},{"x":-1.5,"y":0.0},{"x":-1,"y":-0.0002},{"x":-0.5,"y":-0.0005},{"x":0,"y":-0.0006},{"x":0.5,"y":-0.0004},{"x":1.0,"y":0.0},{"x":1.5,"y":0.0008},{"x":2.0,"y":0.0019}],
"p14":[{"x":0.0,"y":0.01},{"x":0.002,"y":0.0035},{"x":0.005,"y":0.006},{"x":0.008,"y":-0.001},{"x":0.01,"y":0.008},{"x":0.012,"y":0.0095},{"x":0.015,"y":0.003},{"x":0.018,"y":0.0015},{"x":0.02,"y":0.005},{"x":0.022,"y":-0.003},{"x":0.025,"y":0.0},{"x":0.028,"y":0.004},{"x":0.03,"y":0.0065},{"x":0.033,"y":-0.0015},{"x":0.035,"y":0.002},{"x":0.038,"y":0.0025},{"x":0.04,"y":-0.002},{"x":0.042,"y":0.0},{"x":0.045,"y":0.004},{"x":0.05,"y":0.001},{"x":0.055,"y":0.0035},{"x":0.06,"y":-0.001},{"x":0.065,"y":-0.004},{"x":0.07,"y":0.003},{"x":0.075,"y":0.0015},{"x":0.08,"y":-0.003},{"x":0.085,"y":-0.0015},{"x":0.09,"y":0.0},{"x":0.095,"y":0.0025},{"x":0.1,"y":0.002},{"x":0.105,"y":-0.005},{"x":0.11,"y":-0.002},{"x":0.115,"y":0.0},{"x":0.12,"y":-0.004},{"x":0.125,"y":-0.0025},{"x":0.13,"y":0.0005},{"x":0.135,"y":0.0015},{"x":0.14,"y":-0.001},{"x":0.145,"y":-0.0045},{"x":0.15,"y":-0.003},{"x":0.16,"y":-0.0015},{"x":0.17,"y":0.001},{"x":0.18,"y":-0.004},{"x":0.19,"y":-0.002},{"x":0.2,"y":0.0},{"x":0.21,"y":-0.0045},{"x":0.23,"y":-0.001},{"x":0.25,"y":-0.003},{"x":0.27,"y":-0.0055},{"x":0.29,"y":-0.002},{"x":0.32,"y":-0.004},{"x":0.35,"y":-0.0025},{"x":0.38,"y":-0.005},{"x":0.42,"y":-0.0035},{"x":0.46,"y":-0.006},{"x":0.5,"y":-0.004},{"x":0.55,"y":-0.0025},{"x":0.6,"y":-0.005},{"x":0.65,"y":-0.0035},{"x":0.7,"y":-0.0045},{"x":0.75,"y":-0.003},{"x":0.8,"y":-0.0055},{"x":0.85,"y":-0.0035},{"x":0.9,"y":-0.002},{"x":0.95,"y":-0.0045},{"x":1.0,"y":-0.003},{"x":1.05,"y":-0.0015},{"x":1.1,"y":-0.004},{"x":1.15,"y":-0.0025},{"x":1.2,"y":-0.005},{"x":1.25,"y":-0.003},{"x":1.3,"y":-0.006},{"x":1.35,"y":-0.0045},{"x":1.4,"y":-0.0065},{"x":1.45,"y":-0.0075},{"x":0.003,"y":0.007},{"x":0.006,"y":0.0045},{"x":0.009,"y":0.002},{"x":0.011,"y":0.0055},{"x":0.014,"y":-0.0005},{"x":0.016,"y":0.007},{"x":0.019,"y":0.0035},{"x":0.021,"y":0.0},{"x":0.024,"y":0.0025},{"x":0.026,"y":0.005},{"x":0.029,"y":-0.001},{"x":0.031,"y":0.003},{"x":0.034,"y":0.0005},{"x":0.036,"y":0.0045},{"x":0.039,"y":-0.0025},{"x":0.041,"y":0.0015},{"x":0.044,"y":-0.0005},{"x":0.047,"y":0.0025},{"x":0.052,"y":-0.0015},{"x":0.058,"y":0.002},{"x":0.062,"y":0.0005},{"x":0.068,"y":-0.002},{"x":0.072,"y":0.0005},{"x":0.078,"y":-0.0005},{"x":0.082,"y":0.0015},{"x":0.088,"y":-0.0035},{"x":0.092,"y":-0.001},{"x":0.098,"y":0.0},{"x":0.102,"y":-0.003},{"x":0.108,"y":0.001},{"x":0.112,"y":-0.0015},{"x":0.118,"y":-0.0035},{"x":0.122,"y":-0.0005},{"x":0.128,"y":-0.002},{"x":0.132,"y":-0.0035},{"x":0.138,"y":0.0},{"x":0.142,"y":-0.0025},{"x":0.155,"y":-0.002},{"x":0.165,"y":-0.0035},{"x":0.175,"y":-0.0025},{"x":0.185,"y":-0.001},{"x":0.195,"y":-0.0035},{"x":0.22,"y":-0.0025},{"x":0.24,"y":-0.004},{"x":0.26,"y":-0.002},{"x":0.28,"y":-0.0035},{"x":0.31,"y":-0.003},{"x":0.34,"y":-0.0045},{"x":0.37,"y":-0.003},{"x":0.4,"y":-0.0045},{"x":0.44,"y":-0.004},{"x":0.48,"y":-0.005},{"x":0.53,"y":-0.0045},{"x":0.58,"y":-0.004},{"x":0.63,"y":-0.005},{"x":0.68,"y":-0.0038},{"x":0.73,"y":-0.0045},{"x":0.78,"y":-0.0035},{"x":0.83,"y":-0.0045},{"x":0.88,"y":-0.003},{"x":0.93,"y":-0.0035},{"x":0.98,"y":-0.0025},{"x":1.03,"y":-0.0035},{"x":1.08,"y":-0.0025},{"x":1.13,"y":-0.0038},{"x":1.18,"y":-0.003},{"x":1.23,"y":-0.004},{"x":1.28,"y":-0.0048},{"x":1.33,"y":-0.0055},{"x":1.38,"y":-0.006},{"x":1.42,"y":-0.0072}],
"l14":[{"x":0,"y":0.002},{"x":0.05,"y":0.0},{"x":0.1,"y":-0.0012},{"x":0.15,"y":-0.002},{"x":0.2,"y":-0.0028},{"x":0.25,"y":-0.0033},{"x":0.3,"y":-0.0037},{"x":0.4,"y":-0.0043},{"x":0.5,"y":-0.0045},{"x":0.6,"y":-0.0044},{"x":0.7,"y":-0.004},{"x":0.8,"y":-0.0035},{"x":0.9,"y":-0.0031},{"x":1.0,"y":-0.003},{"x":1.1,"y":-0.0031},{"x":1.2,"y":-0.0035},{"x":1.3,"y":-0.0045},{"x":1.4,"y":-0.0062},{"x":1.45,"y":-0.0075}]
},
"spacing":82,
"hconcat":[
{"title":{"text":"SHAP Value","orient":"left","fontSize":27,"fontWeight":"normal","color":"#262626","frame":"bounds","anchor":"middle","offset":13,"dx":7},
 "hconcat":[
 {"title":{"text":"Predictor Value","orient":"bottom","fontSize":27,"fontWeight":"normal","color":"#262626","frame":"bounds","anchor":"middle","offset":0,"dx":7},
  "columns":2,"bounds":"flush","spacing":{"row":38,"column":59},
  "concat":[
   {"width":185,"height":54,"title":{"text":"Sales growth 30 dsd"},
    "encoding":{"x":{"field":"x","type":"quantitative","scale":{"domain":[-1,1],"nice":false,"zero":false},"axis":{"values":[-1,-0.5,0,0.5,1],"title":null}},
     "y":{"field":"y","type":"quantitative","scale":{"domain":[-6.6,11.3],"nice":false,"zero":false},"axis":{"values":[-5,0,5,10],"title":"×10⁻³"}}},
    "layer":[{"data":{"name":"p1"},"mark":"point"},{"data":{"name":"l1"},"mark":"line"}]},
   {"width":185,"height":54,"title":{"text":"Sales growth 60 dsd"},
    "encoding":{"x":{"field":"x","type":"quantitative","scale":{"domain":[-1,1],"nice":false,"zero":false},"axis":{"values":[-1,-0.5,0,0.5,1],"title":null}},
     "y":{"field":"y","type":"quantitative","scale":{"domain":[-5.6,11.8],"nice":false,"zero":false},"axis":{"values":[-5,0,5,10],"title":"×10⁻³"}}},
    "layer":[{"data":{"name":"p2"},"mark":"point"},{"data":{"name":"l2"},"mark":"line"}]},
   {"width":185,"height":54,"title":{"text":"Sales growth 90 dsd"},
    "encoding":{"x":{"field":"x","type":"quantitative","scale":{"domain":[-1,1],"nice":false,"zero":false},"axis":{"values":[-1,-0.5,0,0.5,1],"title":null}},
     "y":{"field":"y","type":"quantitative","scale":{"domain":[-7.7,13.2],"nice":false,"zero":false},"axis":{"values":[-5,0,5,10],"title":"×10⁻³"}}},
    "layer":[{"data":{"name":"p3"},"mark":"point"},{"data":{"name":"l3"},"mark":"line"}]},
   {"width":185,"height":54,"title":{"text":"Growth in avg trans size 90 dsd"},
    "encoding":{"x":{"field":"x","type":"quantitative","scale":{"domain":[-0.5,0.52],"nice":false,"zero":false},"axis":{"values":[-0.5,0,0.5],"title":null}},
     "y":{"field":"y","type":"quantitative","scale":{"domain":[-2.4,10.2],"nice":false,"zero":false},"axis":{"values":[0,5,10],"title":"×10⁻³"}}},
    "layer":[{"data":{"name":"p4"},"mark":"point"},{"data":{"name":"l4"},"mark":"line"}]},
   {"width":185,"height":54,"title":{"text":"Avg daily # transact 90 dsd"},
    "encoding":{"x":{"field":"x","type":"quantitative","scale":{"domain":[0,1.5],"nice":false,"zero":false},"axis":{"values":[0,0.5,1,1.5],"title":null}},
     "y":{"field":"y","type":"quantitative","scale":{"domain":[-6.3,11],"nice":false,"zero":false},"axis":{"values":[-5,0,5,10],"title":"×10⁻³"}}},
    "layer":[{"data":{"name":"p5"},"mark":"point"},{"data":{"name":"l5"},"mark":"line"}]},
   {"width":185,"height":54,"title":{"text":"Aggregate sales 90 dsd"},
    "encoding":{"x":{"field":"x","type":"quantitative","scale":{"domain":[8,13],"nice":false,"zero":false},"axis":{"values":[8,9,10,11,12,13],"title":null}},
     "y":{"field":"y","type":"quantitative","scale":{"domain":[-7.8,20],"nice":false,"zero":false},"axis":{"values":[0,10,20],"title":"×10⁻³"}}},
    "layer":[{"data":{"name":"p6"},"mark":"point"},{"data":{"name":"l6"},"mark":"line"}]},
   {"width":185,"height":54,"title":{"text":"Avg transact size 90 dsd"},
    "encoding":{"x":{"field":"x","type":"quantitative","scale":{"domain":[6,8.5],"nice":false,"zero":false},"axis":{"values":[6,6.5,7,7.5,8,8.5],"title":null}},
     "y":{"field":"y","type":"quantitative","scale":{"domain":[-3.7,10],"nice":false,"zero":false},"axis":{"values":[0,5,10],"title":"×10⁻³"}}},
    "layer":[{"data":{"name":"p7"},"mark":"point"},{"data":{"name":"l7"},"mark":"line"}]},
   {"width":185,"height":54,"title":{"text":"Median transact size 90 dsd"},
    "encoding":{"x":{"field":"x","type":"quantitative","scale":{"domain":[5.5,7.5],"nice":false,"zero":false},"axis":{"values":[5.5,6,6.5,7,7.5],"title":null}},
     "y":{"field":"y","type":"quantitative","scale":{"domain":[-5,3.9],"nice":false,"zero":false},"axis":{"values":[-4,-2,0,2],"title":"×10⁻³"}}},
    "layer":[{"data":{"name":"p8"},"mark":"point"},{"data":{"name":"l8"},"mark":"line"}]}
  ]}
 ]},
{"title":{"text":"SHAP Value","orient":"left","fontSize":27,"fontWeight":"normal","color":"#262626","frame":"bounds","anchor":"middle","offset":0,"dx":20},
 "hconcat":[
 {"title":{"text":"Predictor Value","orient":"bottom","fontSize":27,"fontWeight":"normal","color":"#262626","frame":"bounds","anchor":"middle","offset":-18,"dx":14},
  "columns":2,"bounds":"flush","spacing":{"row":44,"column":60},
  "concat":[
   {"width":185,"height":82,"title":{"text":"CV daily sales 90 dsd","offset":-5},
    "encoding":{"x":{"field":"x","type":"quantitative","scale":{"domain":[1,4],"nice":false,"zero":false},"axis":{"values":[1,2,3,4],"title":null}},
     "y":{"field":"y","type":"quantitative","scale":{"domain":[-0.01,0.02],"nice":false,"zero":false},"axis":{"values":[-0.01,0,0.01,0.02],"title":null}}},
    "layer":[{"data":{"name":"p9"},"mark":"point"},{"data":{"name":"l9"},"mark":"line"}]},
   {"width":185,"height":82,"title":{"text":"CV transact size 90 dsd","offset":-5},
    "encoding":{"x":{"field":"x","type":"quantitative","scale":{"domain":[0.5,2.5],"nice":false,"zero":false},"axis":{"values":[0.5,1,1.5,2,2.5],"title":null}},
     "y":{"field":"y","type":"quantitative","scale":{"domain":[-0.01,0.01],"nice":false,"zero":false},"axis":{"values":[-0.01,0,0.01],"title":null}}},
    "layer":[{"data":{"name":"p10"},"mark":"point"},{"data":{"name":"l10"},"mark":"line"}]},
   {"width":185,"height":82,"title":{"text":"District aggregate sales 90 dsd","offset":-8},
    "encoding":{"x":{"field":"x","type":"quantitative","scale":{"domain":[18,22],"nice":false,"zero":false},"axis":{"values":[18,19,20,21,22],"title":null}},
     "y":{"field":"y","type":"quantitative","scale":{"domain":[-5.3,5],"nice":false,"zero":false},"axis":{"values":[-5,0,5],"title":"×10⁻³"}}},
    "layer":[{"data":{"name":"p11"},"mark":"point"},{"data":{"name":"l11"},"mark":"line"}]},
   {"width":185,"height":82,"title":{"text":"Growth in district sales 90 dsd","offset":-8},
    "encoding":{"x":{"field":"x","type":"quantitative","scale":{"domain":[-0.12,0.052],"nice":false,"zero":false},"axis":{"values":[-0.1,-0.05,0,0.05],"title":null}},
     "y":{"field":"y","type":"quantitative","scale":{"domain":[-6.2,5.7],"nice":false,"zero":false},"axis":{"values":[-5,0,5],"title":"×10⁻³"}}},
    "layer":[{"data":{"name":"p12"},"mark":"point"},{"data":{"name":"l12"},"mark":"line"}]},
   {"width":185,"height":82,"title":{"text":"Change in share of district sales 90 dsd","offset":-2},
    "encoding":{"x":{"field":"x","type":"quantitative","scale":{"domain":[-4,2],"nice":false,"zero":false},"axis":{"values":[-4,-2,0,2],"title":"×10⁻³","titleX":168,"titleY":26,"titleAlign":"left","titleBaseline":"middle","titleAnchor":null}},
     "y":{"field":"y","type":"quantitative","scale":{"domain":[-0.01,0.01],"nice":false,"zero":false},"axis":{"values":[-0.01,0,0.01],"title":null}}},
    "layer":[{"data":{"name":"p13"},"mark":"point"},{"data":{"name":"l13"},"mark":"line"}]},
   {"width":185,"height":82,"title":{"text":"Share of district sales 90 dsd","offset":-2},
    "encoding":{"x":{"field":"x","type":"quantitative","scale":{"domain":[0,1.5],"nice":false,"zero":false},"axis":{"values":[0,0.5,1,1.5],"title":"×10⁻³","titleX":168,"titleY":26,"titleAlign":"left","titleBaseline":"middle","titleAnchor":null}},
     "y":{"field":"y","type":"quantitative","scale":{"domain":[-0.01,0.02],"nice":false,"zero":false},"axis":{"values":[-0.01,0,0.01,0.02],"title":null}}},
    "layer":[{"data":{"name":"p14"},"mark":"point"},{"data":{"name":"l14"},"mark":"line"}]}
  ]}
 ]}
]
}
